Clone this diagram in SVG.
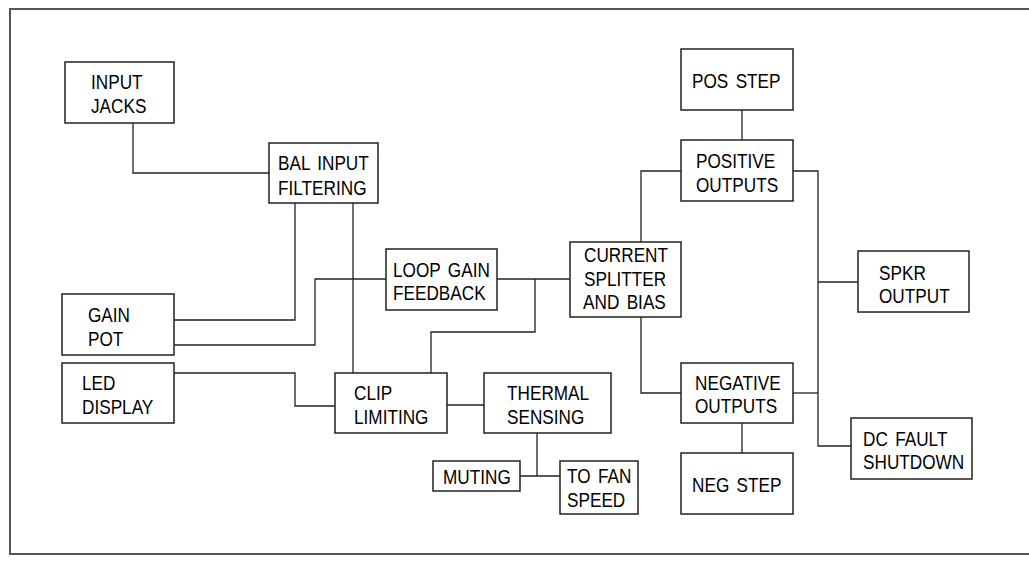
<svg xmlns="http://www.w3.org/2000/svg" width="1029" height="561" viewBox="0 0 1029 561">
<style>
.box{fill:#fff;stroke:#222;stroke-width:1.5}
.ln{fill:none;stroke:#222;stroke-width:1.3}
.frame{fill:none;stroke:#555;stroke-width:2}
text{font-family:"Liberation Sans",Arial,sans-serif;font-size:20px;fill:#000;word-spacing:3px}
</style>
<rect width="1029" height="561" fill="#fff"/>
<path class="frame" d="M1029,9 H10 V554 H1029"/>
<g id="connectors">
<path class="ln" d="M133,123 V173 H269"/>
<path class="ln" d="M295,203 V320 H174"/>
<path class="ln" d="M353,203 V373"/>
<path class="ln" d="M174,345 H315 V279 H386"/>
<path class="ln" d="M174,373 H295 V406 H335"/>
<path class="ln" d="M447,405 H484"/>
<path class="ln" d="M537,433 V476 M520,476 H560"/>
<path class="ln" d="M497,279 H570"/>
<path class="ln" d="M535,279 V332 H431 V373"/>
<path class="ln" d="M641,242 V171 H681"/>
<path class="ln" d="M641,317 V393 H681"/>
<path class="ln" d="M742,110 V140"/>
<path class="ln" d="M793,171 H818 V446 H851"/>
<path class="ln" d="M818,282 H858"/>
<path class="ln" d="M793,393 H818"/>
<path class="ln" d="M742,423 V453"/>
</g>
<g id="input_jacks"><rect class="box" x="65" y="62" width="109" height="61"/>
<text transform="translate(91,89) scale(0.86,1)">INPUT</text><text transform="translate(91,113) scale(0.86,1)">JACKS</text></g>
<g id="bal_input"><rect class="box" x="269" y="143" width="109" height="60"/>
<text transform="translate(278,170) scale(0.86,1)">BAL INPUT</text><text transform="translate(278,195) scale(0.86,1)">FILTERING</text></g>
<g id="gain_pot"><rect class="box" x="62" y="294" width="112" height="61"/>
<text transform="translate(88,322) scale(0.86,1)">GAIN</text><text transform="translate(88,346) scale(0.86,1)">POT</text></g>
<g id="led_display"><rect class="box" x="62" y="363" width="112" height="60"/>
<text transform="translate(82,390) scale(0.86,1)">LED</text><text transform="translate(82,414) scale(0.86,1)">DISPLAY</text></g>
<g id="loop_gain"><rect class="box" x="386" y="249" width="111" height="61"/>
<text transform="translate(393,277) scale(0.86,1)">LOOP GAIN</text><text transform="translate(393,300) scale(0.86,1)">FEEDBACK</text></g>
<g id="clip_limiting"><rect class="box" x="335" y="373" width="112" height="60"/>
<text transform="translate(354,400) scale(0.86,1)">CLIP</text><text transform="translate(354,424) scale(0.86,1)">LIMITING</text></g>
<g id="thermal"><rect class="box" x="484" y="373" width="127" height="60"/>
<text transform="translate(507,400) scale(0.86,1)">THERMAL</text><text transform="translate(507,424) scale(0.86,1)">SENSING</text></g>
<g id="muting"><rect class="box" x="433" y="461" width="87" height="30"/>
<text transform="translate(443,484) scale(0.86,1)">MUTING</text></g>
<g id="to_fan"><rect class="box" x="560" y="461" width="78" height="53"/>
<text transform="translate(567,483) scale(0.86,1)">TO FAN</text><text transform="translate(567,507) scale(0.86,1)">SPEED</text></g>
<g id="current_splitter"><rect class="box" x="570" y="242" width="111" height="75"/>
<text transform="translate(584,262) scale(0.86,1)">CURRENT</text><text transform="translate(584,286) scale(0.86,1)">SPLITTER</text><text transform="translate(583,309) scale(0.86,1)">AND BIAS</text></g>
<g id="pos_step"><rect class="box" x="681" y="49" width="112" height="61"/>
<text transform="translate(692,88) scale(0.86,1)">POS STEP</text></g>
<g id="positive_outputs"><rect class="box" x="681" y="140" width="112" height="61"/>
<text transform="translate(696,168) scale(0.86,1)">POSITIVE</text><text transform="translate(696,192) scale(0.86,1)">OUTPUTS</text></g>
<g id="negative_outputs"><rect class="box" x="681" y="363" width="112" height="60"/>
<text transform="translate(695,390) scale(0.86,1)">NEGATIVE</text><text transform="translate(695,413) scale(0.86,1)">OUTPUTS</text></g>
<g id="neg_step"><rect class="box" x="681" y="453" width="112" height="61"/>
<text transform="translate(692,492) scale(0.86,1)">NEG STEP</text></g>
<g id="spkr_output"><rect class="box" x="858" y="251" width="111" height="61"/>
<text transform="translate(879,280) scale(0.86,1)">SPKR</text><text transform="translate(879,303) scale(0.86,1)">OUTPUT</text></g>
<g id="dc_fault"><rect class="box" x="851" y="418" width="121" height="61"/>
<text transform="translate(863,446) scale(0.86,1)">DC FAULT</text><text transform="translate(863,469) scale(0.86,1)">SHUTDOWN</text></g>
</svg>
